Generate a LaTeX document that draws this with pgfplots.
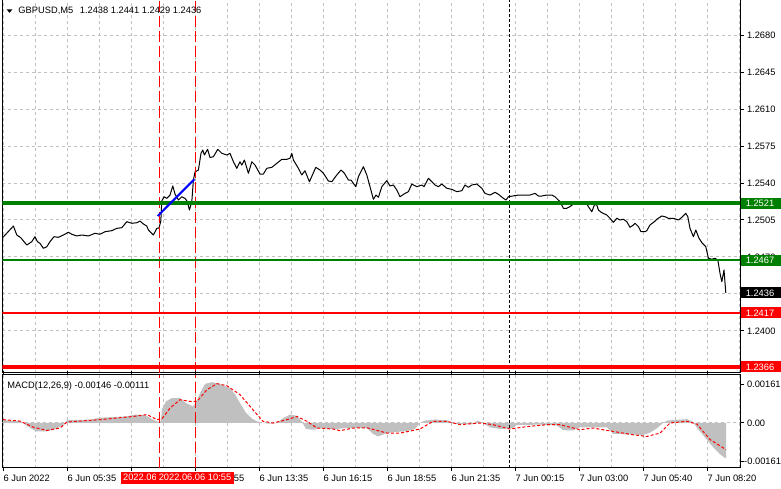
\documentclass[border=0pt]{standalone}
\usepackage{fontspec}
\setmainfont{Liberation Sans}
\usepackage{pgfplots}
\usepackage{pgfplotstable}
\pgfplotsset{compat=1.18}

\definecolor{mtgreen}{HTML}{008000}
\definecolor{mtred}{HTML}{FF0000}
\definecolor{mtgrid}{HTML}{C0C0C0}
\definecolor{mtblue}{HTML}{0000FF}
\newcommand\mt{\fontsize{9.3bp}{11bp}\selectfont}

% GBPUSD M5 close, x = bar number
\pgfplotstableread{
bar price
0 1.24886
5.2 1.24993
6.9 1.24908
8.9 1.24882
11.9 1.24813
14.4 1.24845
16 1.24892
17.2 1.24845
18.5 1.24829
20.2 1.24782
21.9 1.24797
23.5 1.24845
25.5 1.24892
27.7 1.24886
30.2 1.24908
32.7 1.24934
34.4 1.24915
36.9 1.24899
39.4 1.24908
42.7 1.24899
46 1.24924
48.5 1.24915
51 1.24939
54.4 1.24949
56.9 1.24971
59.4 1.24977
61.9 1.25034
64.4 1.25019
66.9 1.25024
68.5 1.25040
70.2 1.25012
71.9 1.24993
72.7 1.24955
75.2 1.24908
76.9 1.24971
78 1.24974
78.9 1.25040
79.4 1.25230
80.5 1.25270
81.9 1.25255
83.5 1.25286
84.9 1.25372
86 1.25296
87.7 1.25239
89.4 1.25270
91 1.25255
92.2 1.25223
93.2 1.25144
94.4 1.25223
95.2 1.25428
96 1.25504
97.7 1.25523
99 1.25681
99.9 1.25712
100.7 1.25665
102.3 1.25719
103.5 1.25641
105.2 1.25649
107.4 1.25719
109.4 1.25681
111.9 1.25665
113.5 1.25681
115.2 1.25601
116.9 1.25539
118.5 1.25601
119.4 1.25570
120.7 1.25617
122.7 1.25492
124.4 1.25601
126 1.25570
128.5 1.25485
130.2 1.25485
131.9 1.25539
134.4 1.25548
136.9 1.25586
139.4 1.25624
141.9 1.25624
143.5 1.25634
144.4 1.25681
145.2 1.25617
147.7 1.25539
149.4 1.25476
151 1.25516
153.2 1.25412
156.4 1.25548
158.5 1.25523
160.2 1.25492
162.7 1.25419
164.4 1.25412
166.9 1.25476
169 1.25523
170.7 1.25492
172.7 1.25428
174 1.25428
176.4 1.25365
177.7 1.25460
180.2 1.25554
181.9 1.25476
183.5 1.25365
185.2 1.25246
186.5 1.25286
187.7 1.25265
189.4 1.25365
191.9 1.25422
193.5 1.25372
195.2 1.25381
196.9 1.25334
198.5 1.25270
201 1.25302
202.7 1.25318
204.4 1.25390
206.9 1.25365
209.4 1.25381
210.5 1.25365
212.7 1.25444
214.4 1.25412
216 1.25381
217.7 1.25365
219.4 1.25390
221.9 1.25350
224.4 1.25340
226.9 1.25318
229.4 1.25327
231 1.25381
232.7 1.25359
234.4 1.25381
236.9 1.25390
239.4 1.25350
241 1.25302
243.5 1.25286
246 1.25312
247.7 1.25293
250.2 1.25255
251.5 1.25239
252.7 1.25270
254.9 1.25277
257.7 1.25286
261 1.25286
263.5 1.25286
266 1.25302
267.7 1.25277
269.4 1.25277
271.9 1.25286
274.4 1.25286
276 1.25270
278.5 1.25223
280.2 1.25161
281.9 1.25161
283.5 1.25176
285.2 1.25201
288.5 1.25211
291.9 1.25201
292.7 1.25176
294.4 1.25128
295.7 1.25192
296.9 1.25192
297.7 1.25144
299.4 1.25119
301.9 1.25097
303.5 1.25066
305.2 1.25028
306.9 1.25066
308.5 1.25050
310.2 1.25057
311.9 1.25034
313.5 1.24981
315.2 1.25003
316 1.25019
317.7 1.24987
319 1.24939
321 1.24939
321.9 1.24949
323.5 1.25003
325.7 1.25034
326.9 1.25057
329.4 1.25088
331 1.25081
332.7 1.25066
335.2 1.25066
337.7 1.25050
339.4 1.25075
341.4 1.25113
342.4 1.25081
343.5 1.24971
345.2 1.24892
346.4 1.24955
348 1.24877
349.7 1.24829
351.4 1.24797
352.7 1.24688
354.4 1.24678
356 1.24688
357.4 1.24671
358.5 1.24546
359.4 1.24466
360.5 1.24577
361.4 1.24360
}\price

% MACD histogram (outline of the grey area)
\pgfplotstableread{
bar macd
0 0
0 0.00012
8.5 0.00008
10 0
12.5 -0.00015
16.5 -0.00035
22 -0.00035
26 -0.00025
30 -0.0001
31 0
32 0.00012
43.5 0.00014
48.5 0.00022
56 0.00025
62 0.00028
66 0.00035
71 0.00033
75 0.00014
77.5 0.00005
79 0.0001
79.5 0.00058
81.5 0.0009
84.5 0.00104
88.5 0.00104
91.5 0.00083
95 0.00069
96.5 0.00085
98.5 0.00125
101 0.00163
104.5 0.0017
107.5 0.00165
110.5 0.00155
113.5 0.00146
116 0.0012
118.5 0.00083
121.5 0.00042
124.5 0.00018
127 0.00007
130 0
133.5 -0.00003
137 0
140 0.0002
143.5 0.00035
147 0.0003
149.5 0.00005
151.5 -0.00025
155 -0.00028
158.5 -0.00022
166 -0.00025
173.5 -0.0002
182 -0.00022
185 -0.00045
187.5 -0.00056
191 -0.00045
195 -0.00038
201 -0.00035
206 -0.00025
208.5 0
211 0.0001
216 0.00014
222 0.00012
225 -0.00003
235 -0.00005
237 0.0001
240 0
243.5 -0.00018
248.5 -0.00025
255 -0.00022
257 -0.00008
268.5 -0.00007
277 -0.0001
280 -0.0003
285 -0.00031
288.5 -0.00018
302 -0.00018
305 -0.00045
320 -0.0005
323.5 -0.0004
327 -0.00022
330 0
332 0.0001
338.5 0.00014
342 0.00016
345 0.00005
347 -0.0002
352 -0.0007
355 -0.001
358.5 -0.0013
361 -0.00146
361.5 -0.00146
361.5 0
}\hist

% MACD signal line
\pgfplotstableread{
bar sig
0 0.00014
8.5 0.00008
15 -0.00017
22 -0.00031
28.5 -0.00021
32 0.00004
48.5 0.00014
65 0.00027
72 0.00035
77 0.00014
79.5 0.00018
83.5 0.00062
88.5 0.00097
93.5 0.0009
97 0.0009
102 0.00139
107 0.00164
112 0.00155
118.5 0.00118
125 0.00055
130 0.00007
135 0
142 0.00014
147 0.00027
152 0.00007
157 -0.00021
165 -0.00025
168.5 -0.00032
175 -0.00021
182 -0.0002
192 -0.00042
198.5 -0.00042
208.5 -0.00025
215 0.00007
222 0.00007
228.5 -0.00007
238.5 0
245 -0.00007
253.5 -0.00025
262 -0.00015
272 -0.00007
278.5 -0.00007
288.5 -0.00028
295 -0.00021
305 -0.00035
315 -0.00049
322 -0.00056
328.5 -0.00042
333.5 0
342 0.00007
347 -0.00005
353.5 -0.00069
361.5 -0.00111
}\signal

\pgfplotsset{
  mtframe/.style={
    scale only axis, width=737.7bp, anchor=north west,
    xmin=-0.35, xmax=368.5,
    axis line style={black, line width=1bp},
    xtick={0,32,...,352}, minor xtick={16,48,...,368},
    xmajorgrids, xminorgrids,
    major grid style={mtgrid, line width=1bp, dash pattern=on 3bp off 3bp},
    minor grid style={mtgrid, line width=1bp, dash pattern=on 3bp off 3bp},
    ytick pos=right, yticklabel pos=right,
    tick align=outside, major tick length=3.5bp, minor tick length=0pt,
    tick style={black, line width=1bp},
    ticklabel style={font=\mt, text=black},
  },
}
\tikzset{
  vline/.style={mtred, line width=1bp, dash pattern=on 11bp off 4bp},
  sepline/.style={black, line width=1bp, dash pattern=on 3bp off 2bp},
  pbox/.style={anchor=west, font=\mt, text=white, inner xsep=5bp, inner ysep=0pt,
    minimum height=11bp, text width=36bp},
  tbox/.style={anchor=north, font=\mt, text=white, fill=mtred, inner xsep=2.4bp,
    inner ysep=0pt, minimum height=11.7bp},
}

\begin{document}
\begin{tikzpicture}
\fill[white] (0,0) rectangle (781bp,489bp);
\useasboundingbox (0,0) rectangle (781bp,489bp);

% price window
\begin{axis}[mtframe,
    at={(2.3bp,490bp)}, height=373.5bp,
    ymin=1.23607, ymax=1.27141,
    xmajorticks=false, xticklabels={},
    ytick={1.2365,1.2400,1.2435,1.2470,1.2505,1.2540,1.2575,1.2610,1.2645,1.2680},
    yticklabels={1.2365,1.2400,1.2435,1.2470,1.2505,1.2540,1.2575,1.2610,1.2645,1.2680},
    ymajorgrids,
]
\addplot[black, line width=1bp, line join=round, mark=none] table[x=bar, y=price] {\price};
\draw[vline] ({axis cs:78.15,1.25}|-{rel axis cs:0,0}) -- ({axis cs:78.15,1.25}|-{rel axis cs:0,1});
\draw[vline] ({axis cs:96,1.25}|-{rel axis cs:0,0}) -- ({axis cs:96,1.25}|-{rel axis cs:0,1});
\draw[sepline] ({axis cs:253,1.25}|-{rel axis cs:0,0}) -- ({axis cs:253,1.25}|-{rel axis cs:0,1});
\addplot[mtgreen, line width=4.5bp, mark=none] coordinates {(-1,1.2521) (370,1.2521)};
\addplot[mtgreen, line width=2.2bp, mark=none] coordinates {(-1,1.2467) (370,1.2467)};
\addplot[mtred, line width=2bp, mark=none] coordinates {(-1,1.2417) (370,1.2417)};
\addplot[mtred, line width=4.5bp, mark=none] coordinates {(-1,1.2366) (370,1.2366)};
\addplot[mtblue, line width=2bp, mark=none] coordinates {(77.35,1.25088) (95.65,1.25435)};
\coordinate (p1) at ({rel axis cs:1,0}|-{axis cs:0,1.2521});
\coordinate (p2) at ({rel axis cs:1,0}|-{axis cs:0,1.2467});
\coordinate (p3) at ({rel axis cs:1,0}|-{axis cs:0,1.2436});
\coordinate (p4) at ({rel axis cs:1,0}|-{axis cs:0,1.2417});
\coordinate (p5) at ({rel axis cs:1,0}|-{axis cs:0,1.2366});
\end{axis}

% MACD window
\begin{axis}[mtframe,
    at={(2.3bp,114bp)}, height=92.7bp,
    ymin=-0.001863, ymax=0.002,
    scaled y ticks=false,
    ytick={-0.00161,0,0.00161},
    yticklabels={\kern-2.8bp-0.00161,0.00,0.00161},
    xticklabels={6 Jun 2022,6 Jun 05:35,6 Jun 08:15,6 Jun 10:55,6 Jun 13:35,6 Jun 16:15,
      6 Jun 18:55,6 Jun 21:35,7 Jun 00:15,7 Jun 03:00,7 Jun 05:40,7 Jun 08:20},
    xticklabel style={anchor=north west, inner xsep=0.5bp},
]
\addplot[mtgrid, line width=1bp, dash pattern=on 3bp off 3bp, mark=none] coordinates {(-1,0) (370,0)};
\addplot[fill=mtgrid, draw=none, mark=none] table[x=bar, y=macd] {\hist};
\addplot[mtred, line width=1bp, dash pattern=on 3bp off 2bp, mark=none] table[x=bar, y=sig] {\signal};
\draw[vline] ({axis cs:78.15,0}|-{rel axis cs:0,0}) -- ({axis cs:78.15,0}|-{rel axis cs:0,1});
\draw[vline] ({axis cs:96,0}|-{rel axis cs:0,0}) -- ({axis cs:96,0}|-{rel axis cs:0,1});
\draw[sepline] ({axis cs:253,0}|-{rel axis cs:0,0}) -- ({axis cs:253,0}|-{rel axis cs:0,1});
\coordinate (v1) at ({axis cs:78.15,0}|-{rel axis cs:0,0});
\coordinate (v2) at ({axis cs:96,0}|-{rel axis cs:0,0});
\end{axis}

% price labels on the right scale
\node[pbox, fill=mtgreen] at ([xshift=0.6bp]p1) {1.2521};
\node[pbox, fill=mtgreen] at ([xshift=0.6bp]p2) {1.2467};
\node[pbox, fill=black] at ([xshift=0.6bp]p3) {1.2436};
\node[pbox, fill=mtred] at ([xshift=0.6bp]p4) {1.2417};
\node[pbox, fill=mtred] at ([xshift=0.6bp]p5) {1.2366};

% time labels of the vertical lines
\node[tbox] at ([yshift=-4bp]v1) {2022.06.06 09:25};
\node[tbox] at ([yshift=-4bp]v2) {2022.06.06 10:55};

% window captions
\fill (6.7bp,479.5bp) -- (12.3bp,479.5bp) -- (9.5bp,476.2bp) -- cycle;
\node[anchor=base west, inner sep=0pt, font=\mt] at (18.3bp,475bp)
  {GBPUSD,M5\hspace{4bp} 1.2438 1.2441 1.2429 1.2436};
\node[anchor=base west, inner sep=0pt, font=\mt] at (7.3bp,100.7bp)
  {MACD(12,26,9) -0.00146 -0.00111};
\end{tikzpicture}
\end{document}
